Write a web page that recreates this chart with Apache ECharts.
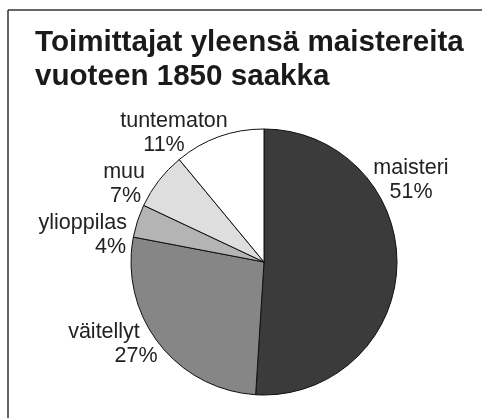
<!DOCTYPE html>
<html>
<head>
<meta charset="utf-8">
<script src="https://cdn.jsdelivr.net/npm/echarts@6/dist/echarts.min.js"></script>
<style>
html,body{margin:0;padding:0;background:#fff;}
#chart{width:482px;height:418px;}
</style>
</head>
<body>
<div id="chart"></div>
<script>
// ---- data ----
const titleLines = ['Toimittajat yleensä maistereita', 'vuoteen 1850 saakka'];
const categories = ['maisteri', 'väitellyt', 'ylioppilas', 'muu', 'tuntematon'];
const shares = [51, 27, 4, 7, 11];

// ---- styles ----
const sliceColors = ['#3b3b3b', '#868686', '#b4b4b4', '#dedede', '#ffffff'];
const labelPlacement = [
  { x: 411, y: 180, align: 'center', padL: 0, padR: 0 },
  { x: 104, y: 344, align: 'center', padL: 64, padR: 0 },
  { x: 127, y: 235, align: 'right', padL: 0, padR: 1 },
  { x: 145, y: 184, align: 'right', padL: 0, padR: 4 },
  { x: 174, y: 133, align: 'center', padL: 0, padR: 20 }
];
const FONT = '"Liberation Sans", Arial, Helvetica, sans-serif';
const LABEL_SIZE = 21.5;

const chart = echarts.init(document.getElementById('chart'), null, { renderer: 'canvas' });

const pieData = categories.map((name, i) => ({
  name: name,
  value: shares[i],
  itemStyle: { color: sliceColors[i] },
  label: {
    align: labelPlacement[i].align,
    rich: {
      n: { fontSize: LABEL_SIZE, fontFamily: FONT, color: '#222', lineHeight: 24, align: labelPlacement[i].align },
      v: { fontSize: LABEL_SIZE, fontFamily: FONT, color: '#222', lineHeight: 24, align: labelPlacement[i].align,
           padding: [0, labelPlacement[i].padR, 0, labelPlacement[i].padL] }
    }
  }
}));

chart.setOption({
  backgroundColor: '#ffffff',
  animation: false,
  title: {
    text: titleLines.join('\n'),
    left: 35,
    top: 26,
    padding: 0,
    textStyle: {
      fontFamily: FONT,
      fontWeight: 'bold',
      fontSize: 29.6,
      lineHeight: 34,
      color: '#1a1a1a'
    }
  },
  graphic: [
    { type: 'line', shape: { x1: 8, y1: 10, x2: 482, y2: 10 }, style: { stroke: '#333', lineWidth: 1.5 } },
    { type: 'line', shape: { x1: 8, y1: 10, x2: 8, y2: 418 }, style: { stroke: '#333', lineWidth: 1.5 } }
  ],
  series: [{
    type: 'pie',
    center: [264, 262],
    radius: 133,
    startAngle: 90,
    clockwise: true,
    itemStyle: { borderColor: '#111', borderWidth: 1 },
    label: {
      show: true,
      position: 'outside',
      alignTo: 'none',
      overflow: 'none',
      edgeDistance: 0,
      formatter: p => '{n|' + p.name + '}\n{v|' + p.value + '%}'
    },
    labelLine: { show: false },
    labelLayout: function (params) {
      const lp = labelPlacement[params.dataIndex];
      return { x: lp.x, y: lp.y, align: lp.align, verticalAlign: 'middle', moveOverlap: false, hideOverlap: false };
    },
    emphasis: { disabled: true },
    data: pieData
  }]
});
</script>
</body>
</html>
